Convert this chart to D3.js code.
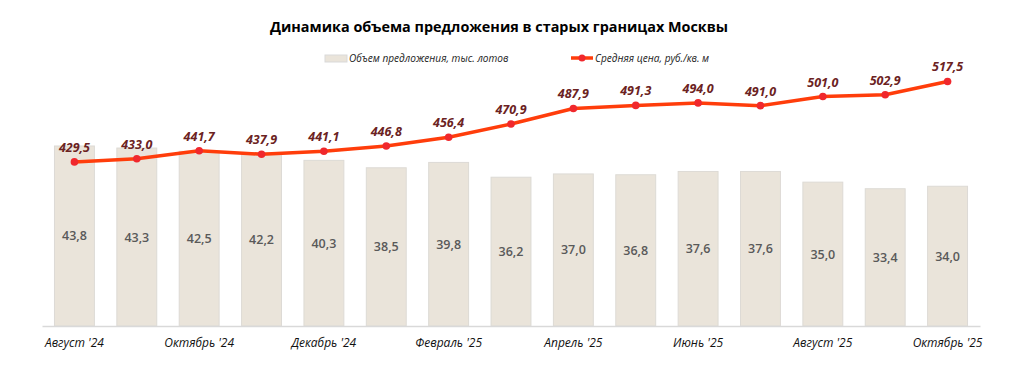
<!DOCTYPE html>
<html><head><meta charset="utf-8">
<script src="https://cdn.jsdelivr.net/npm/d3@7"></script>
<style>
body{margin:0;background:#fff;}
text{font-family:"Open Sans",sans-serif;}
</style></head>
<body><svg id="c" width="1032" height="371"></svg>
<script>
const categories = ["Август '24","Сентябрь '24","Октябрь '24","Ноябрь '24","Декабрь '24","Январь '25","Февраль '25","Март '25","Апрель '25","Май '25","Июнь '25","Июль '25","Август '25","Сентябрь '25","Октябрь '25"];
const volume = [43.8,43.3,42.5,42.2,40.3,38.5,39.8,36.2,37.0,36.8,37.6,37.6,35.0,33.4,34.0];
const price = [429.5,433.0,441.7,437.9,441.1,446.8,456.4,470.9,487.9,491.3,494.0,491.0,501.0,502.9,517.5];
const tickLabels = ["Август '24","Октябрь '24","Декабрь '24","Февраль '25","Апрель '25","Июнь '25","Август '25","Октябрь '25"];
const titleText = "Динамика объема предложения в старых границах Москвы";
const legendBar = "Объем предложения, тыс. лотов";
const legendLine = "Средняя цена, руб./кв. м";

const svg = d3.select("#c");
const fmt = v => d3.format(".1f")(v).replace(".", ",");

const x = d3.scaleBand().domain(categories).range([42, 980]).paddingInner(0.36).paddingOuter(0.2);
const y = d3.scaleLinear().domain([0, 50]).range([326, 120.5]);
const y2 = d3.scaleLinear().domain([250, 600]).range([326, 6]);

// title
svg.append("text").attr("x", 499).attr("y", 32).attr("text-anchor", "middle")
  .attr("font-size", 14.4).attr("font-weight", "bold").attr("fill", "#000").text(titleText);

// legend
svg.append("rect").attr("x", 325).attr("y", 55).attr("width", 22).attr("height", 7)
  .attr("fill", "#EAE4DA").attr("stroke", "#D9D9D9");
svg.append("text").attr("x", 349).attr("y", 62).attr("font-size", 10.1).attr("font-style", "italic")
  .attr("fill", "#222").text(legendBar);
svg.append("line").attr("x1", 571).attr("x2", 593).attr("y1", 58).attr("y2", 58)
  .attr("stroke", "#FF3D0B").attr("stroke-width", 3.5);
svg.append("circle").attr("cx", 582).attr("cy", 58).attr("r", 3.5).attr("fill", "#F0282D");
svg.append("text").attr("x", 595).attr("y", 62).attr("font-size", 10.1).attr("font-style", "italic")
  .attr("fill", "#222").text(legendLine);

// bars
svg.append("g").selectAll("rect").data(volume).join("rect")
  .attr("x", (d, i) => x(categories[i]))
  .attr("y", d => y(d))
  .attr("width", x.bandwidth())
  .attr("height", d => y(0) - y(d))
  .attr("fill", "#EAE4DA").attr("stroke", "#DDDAD5").attr("stroke-width", 1);

svg.append("g").selectAll("text").data(volume).join("text")
  .attr("x", (d, i) => x(categories[i]) + x.bandwidth() / 2)
  .attr("y", d => (y(d) + y(0)) / 2 + 4.5)
  .attr("text-anchor", "middle").attr("font-size", 12.5).attr("font-weight", 600)
  .attr("fill", "#595959").text(d => fmt(d));

// axis
const xAxis = d3.axisBottom(x).tickSize(0).tickPadding(12)
  .tickValues(tickLabels);
const ax = svg.append("g").attr("transform", "translate(0,326)").call(xAxis);
ax.select(".domain").attr("stroke", "#D9D9D9").attr("stroke-width", 1.5);
ax.selectAll("text").attr("font-size", 12).attr("font-style", "italic").attr("fill", "#111")
  .attr("font-family", "'Open Sans',sans-serif");

// line
const cx = i => x(categories[i]) + x.bandwidth() / 2;
const line = d3.line().x((d, i) => cx(i)).y(d => y2(d));
svg.append("path").datum(price).attr("d", line).attr("fill", "none")
  .attr("stroke", "#FF3D0B").attr("stroke-width", 3.5).attr("stroke-linejoin", "round");
svg.append("g").selectAll("circle").data(price).join("circle")
  .attr("cx", (d, i) => cx(i)).attr("cy", d => y2(d)).attr("r", 3.8).attr("fill", "#F0282D");
svg.append("g").selectAll("text").data(price).join("text")
  .attr("x", (d, i) => cx(i)).attr("y", d => y2(d) - 10)
  .attr("text-anchor", "middle").attr("font-size", 12.5).attr("font-weight", "bold")
  .attr("font-style", "italic").attr("fill", "#6B2222").text(d => fmt(d));
</script></body></html>
